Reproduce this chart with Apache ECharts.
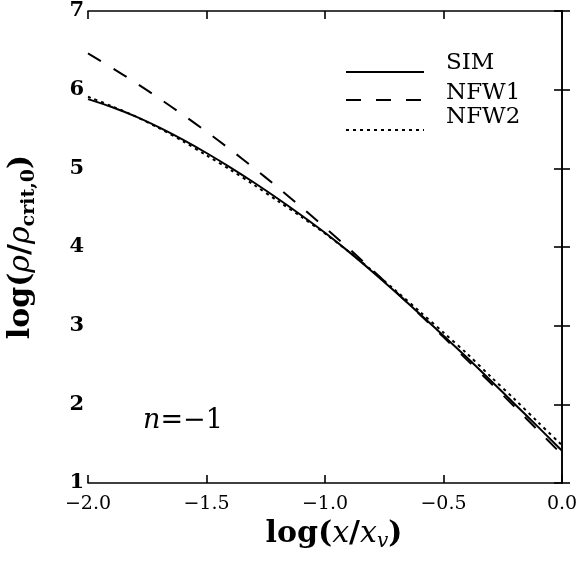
<!DOCTYPE html>
<html><head><meta charset="utf-8">
<script src="https://cdn.jsdelivr.net/npm/echarts@6/dist/echarts.min.js"></script>
<style>html,body{margin:0;padding:0;background:#fff}#c{width:579px;height:562px}</style>
</head><body><div id="c"></div>
<script>
// log(x/x_v)
const logX = [-2.0,-1.9,-1.8,-1.7,-1.6,-1.5,-1.4,-1.3,-1.2,-1.1,-1.0,-0.9,-0.8,-0.7,-0.6,-0.5,-0.4,-0.3,-0.2,-0.1,0.0];
// log(rho/rho_crit,0)
const sim  = [5.88,5.78,5.66,5.52,5.365,5.195,5.013,4.82,4.617,4.404,4.181,3.941,3.686,3.421,3.149,2.872,2.592,2.30,2.005,1.71,1.41];
const nfw1 = [6.46,6.28,6.09,5.89,5.682,5.466,5.24,5.004,4.759,4.506,4.248,3.982,3.708,3.428,3.143,2.854,2.562,2.267,1.97,1.665,1.36];
const nfw2 = [5.91,5.79,5.66,5.51,5.345,5.165,4.983,4.79,4.587,4.384,4.171,3.941,3.696,3.441,3.179,2.912,2.642,2.35,2.065,1.77,1.48];
const seriesNames = ['SIM','NFW1','NFW2'];
const xTickValues = [-2.0,-1.5,-1.0,-0.5,0.0];
const yTickValues = [1,2,3,4,5,6,7];
const annotation = '=−1';

const FONT = 'DejaVu Serif';
const pair = a => logX.map((x,i)=>[x,a[i]]);
const fmtX = v => v.toFixed(1).replace('-', '−');

const chart = echarts.init(document.getElementById('c'), null, {renderer:'canvas'});
const axisLine = {show:true, lineStyle:{color:'#000', width:1.6}};
const axisTick = {show:true, inside:true, length:8, lineStyle:{color:'#000', width:1.6}};

// one legend block per series so each text sits a little above its sample line
const legendTops = [52, 82, 106];
const legendPadBottom = [17, 13, 25];
const legends = seriesNames.map((nm, k) => ({
  orient:'vertical', left:345, top:legendTops[k], padding:0,
  itemWidth:78, itemHeight:14, data:[nm],
  itemStyle:{opacity:0},
  formatter: n => '{t|' + n + '}',
  textStyle:{rich:{t:{fontFamily:FONT, fontSize:23, color:'#000', padding:[0,0,legendPadBottom[k],17]}}}
}));

const option = {
  backgroundColor:'#fff',
  animation:false,
  grid:{left:88, right:17, top:11, bottom:79, show:false, outerBoundsMode:'none', containLabel:false},
  legend: legends,
  xAxis:[{
    type:'value', min:xTickValues[0], max:xTickValues[xTickValues.length-1], interval:0.5,
    axisLine, axisTick, splitLine:{show:false},
    axisLabel:{formatter:fmtX, fontFamily:FONT, fontSize:19, color:'#000', margin:12},
    name:'{a|log(}{i|x}{n|/}{i|x}{s|v}{n|)}', nameLocation:'middle', nameGap:20,
    nameTextStyle:{rich:{
      a:{fontFamily:FONT, fontSize:30, fontWeight:'bold', color:'#000', padding:[0,0,0,18]},
      n:{fontFamily:FONT, fontSize:30, fontWeight:'bold', color:'#000'},
      i:{fontFamily:FONT, fontSize:30, fontStyle:'italic', color:'#000'},
      s:{fontFamily:FONT, fontSize:20, fontStyle:'italic', color:'#000', padding:[16,0,0,0]}
    }}
  },{
    type:'value', position:'top', min:xTickValues[0], max:xTickValues[xTickValues.length-1], interval:0.5,
    axisLine, axisTick, axisLabel:{show:false}, splitLine:{show:false}
  }],
  yAxis:[{
    type:'value', min:yTickValues[0], max:yTickValues[yTickValues.length-1], interval:1,
    axisLine, axisTick, splitLine:{show:false},
    axisLabel:{fontFamily:FONT, fontSize:21, fontWeight:'bold', color:'#000', margin:4},
    name:'{n|log(}{i|ρ}{n|/}{i|ρ}{s|crit,0}{n|)}', nameLocation:'middle', nameGap:49, nameRotate:90,
    nameTextStyle:{rich:{
      n:{fontFamily:FONT, fontSize:30, fontWeight:'bold', color:'#000'},
      i:{fontFamily:FONT, fontSize:30, fontStyle:'italic', color:'#000'},
      s:{fontFamily:FONT, fontSize:19, fontWeight:'bold', color:'#000', padding:[16,0,0,0]}
    }}
  },{
    type:'value', position:'right', min:yTickValues[0], max:yTickValues[yTickValues.length-1], interval:1,
    axisLine, axisTick, axisLabel:{show:false}, splitLine:{show:false}
  }],
  series:[
    {name:seriesNames[0], type:'line', data:pair(sim), smooth:0.3, showSymbol:false, symbol:'none',
     lineStyle:{color:'#000', width:2, type:'solid'}, itemStyle:{color:'#000'}},
    {name:seriesNames[1], type:'line', data:pair(nfw1), smooth:0.3, showSymbol:false, symbol:'none',
     lineStyle:{color:'#000', width:2, type:[15,15]}, itemStyle:{color:'#000'}},
    {name:seriesNames[2], type:'line', data:pair(nfw2), smooth:0.3, showSymbol:false, symbol:'none',
     lineStyle:{color:'#000', width:2, type:[3,4]}, itemStyle:{color:'#000'}}
  ],
  graphic:[{
    type:'text', left:143, top:407,
    style:{text:'{i|n}{n|' + annotation + '}', rich:{
      i:{fontFamily:FONT, fontSize:27, fontStyle:'italic', fill:'#000'},
      n:{fontFamily:FONT, fontSize:27, fill:'#000'}
    }}
  }]
};
chart.setOption(option);
</script></body></html>
